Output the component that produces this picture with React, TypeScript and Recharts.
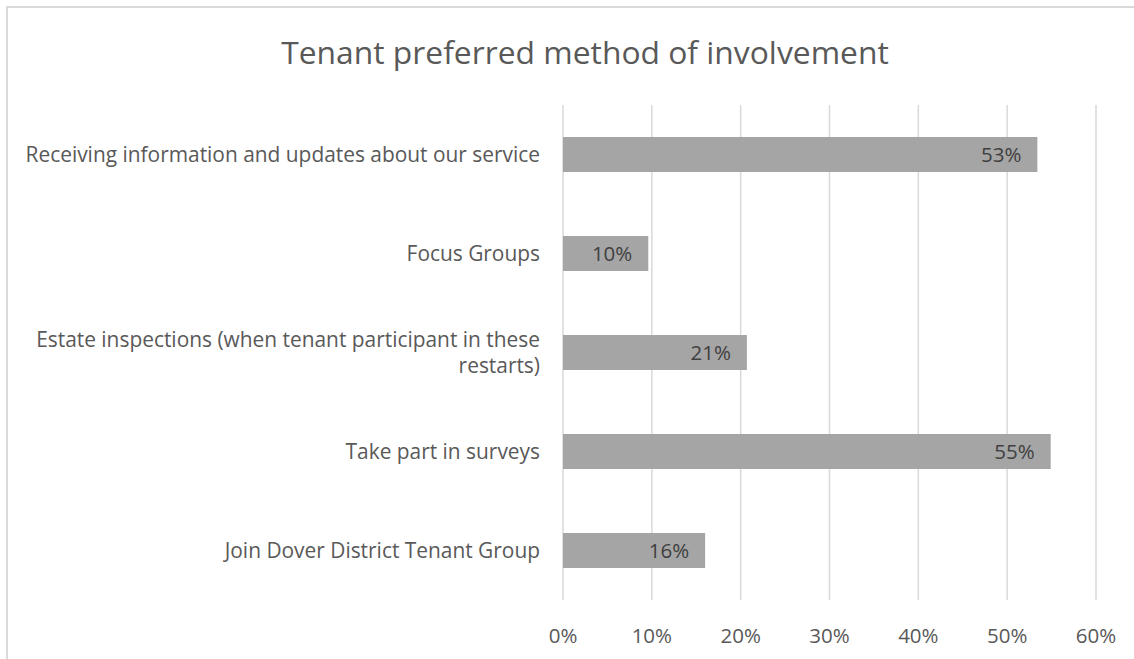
import { BarChart, Bar, XAxis, YAxis, CartesianGrid, LabelList } from "recharts";

const categories = [
  "Receiving information and updates about our service",
  "Focus Groups",
  "Estate inspections (when tenant participant in these restarts)",
  "Take part in surveys",
  "Join Dover District Tenant Group",
];
const shares = [0.534, 0.096, 0.207, 0.549, 0.16];
const xTicks = [0, 0.1, 0.2, 0.3, 0.4, 0.5, 0.6];

const data = categories.map((name, i) => ({ name, value: shares[i] }));

const FONT = "'Open Sans', 'Noto Sans', sans-serif";
const pct = (v: number) => `${Math.round(v * 100)}%`;

// break long category names the way the source chart does
function wrap(label: string, maxChars: number) {
  const lines: string[] = [];
  let cur = "";
  for (const w of label.split(" ")) {
    const next = cur ? cur + " " + w : w;
    if (next.length > maxChars && cur) {
      lines.push(cur);
      cur = w;
    } else {
      cur = next;
    }
  }
  if (cur) lines.push(cur);
  return lines;
}

function CategoryTick(props: any) {
  const { x, y, payload } = props;
  const lines = wrap(String(payload.value), 52);
  const lh = 26;
  const first = y - ((lines.length - 1) * lh) / 2 + 7;
  return (
    <text
      x={x - 15}
      y={first}
      textAnchor="end"
      fill="#595959"
      fontSize={20.9}
      fontFamily={FONT}
    >
      {lines.map((l, i) => (
        <tspan key={i} x={x - 15} y={first + i * lh}>
          {l}
        </tspan>
      ))}
    </text>
  );
}

export default function App() {
  return (
    <div style={{ position: "absolute", left: 0, top: 0, width: 1134, height: 659, overflow: "hidden", background: "#fff" }}>
      <div
        style={{
          position: "absolute",
          left: 6,
          top: 6,
          width: 1200,
          height: 700,
          border: "2px solid #d9d9d9",
        }}
      />
      <div
        style={{
          position: "absolute",
          left: 0,
          top: 30,
          width: 1170,
          textAlign: "center",
          fontFamily: FONT,
          fontSize: 31.8,
          color: "#595959",
        }}
      >
        Tenant preferred method of involvement
      </div>
      <div style={{ position: "absolute", left: 0, top: 0 }}>
        <BarChart
          width={1134}
          height={659}
          data={data}
          layout="vertical"
          margin={{ top: 105, right: 38, bottom: 0, left: 0 }}
        >
          <CartesianGrid horizontal={false} stroke="#d9d9d9" strokeWidth={1.5} />
          <XAxis
            type="number"
            domain={[0, 0.6]}
            ticks={xTicks}
            tickFormatter={pct}
            axisLine={false}
            tickLine={false}
            tickSize={0}
            tickMargin={28}
            height={59}
            interval={0}
            tick={{ fill: "#595959", fontSize: 20.5, fontFamily: FONT }}
          />
          <YAxis
            type="category"
            dataKey="name"
            width={563}
            axisLine={false}
            tickLine={false}
            interval={0}
            tick={<CategoryTick />}
          />
          <Bar dataKey="value" fill="#a5a5a5" barSize={35} isAnimationActive={false}>
            <LabelList
              dataKey="value"
              position="insideRight"
              offset={16}
              formatter={(v: any) => pct(Number(v))}
              fill="#404040"
              fontSize={20.5}
              fontFamily={FONT}
            />
          </Bar>
        </BarChart>
      </div>
    </div>
  );
}
